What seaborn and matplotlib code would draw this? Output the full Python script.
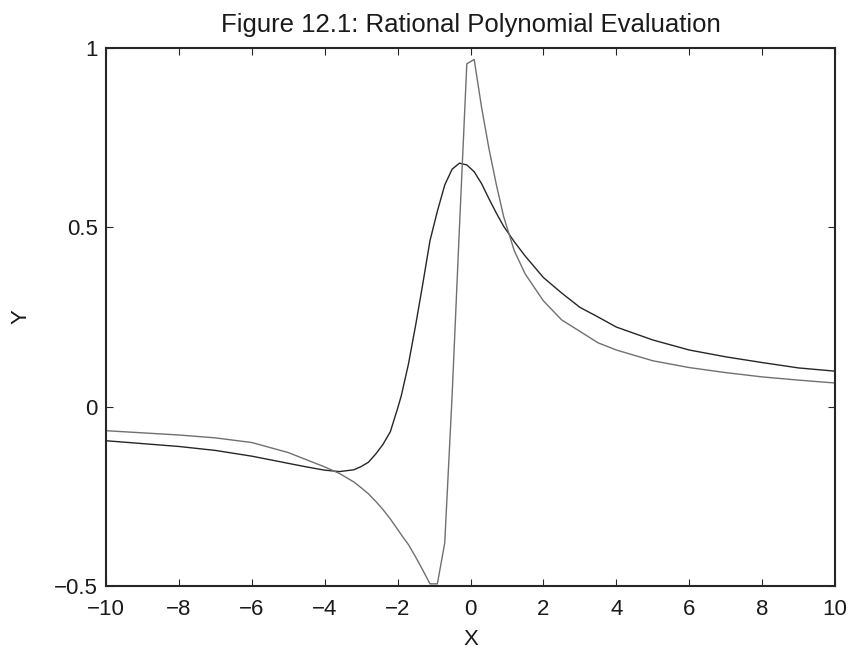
import matplotlib
matplotlib.use("Agg")
import matplotlib.pyplot as plt
import seaborn as sns
import pandas as pd

# x positions where the curves were read
x_vals = [-10, -9, -8, -7, -6, -5, -4.5, -4, -3.6, -3.2, -3.0, -2.8, -2.6,
          -2.4, -2.2, -2.0, -1.9, -1.7, -1.5, -1.313, -1.111, -0.909, -0.707,
          -0.505, -0.303, -0.101, 0.101, 0.303, 0.505, 0.707, 0.909, 1.2, 1.5,
          2.0, 2.5, 3.0, 3.5, 4.0, 5.0, 6.0, 7.0, 8.0, 9.0, 10.0]

# dark curve
y_dark = [-0.095, -0.103, -0.111, -0.122, -0.138, -0.158, -0.168, -0.177,
          -0.181, -0.176, -0.167, -0.155, -0.132, -0.105, -0.07, -0.005, 0.03,
          0.12, 0.23, 0.34, 0.463, 0.545, 0.618, 0.662, 0.679, 0.674, 0.655,
          0.622, 0.58, 0.54, 0.503, 0.46, 0.42, 0.36, 0.317, 0.277, 0.25,
          0.222, 0.186, 0.158, 0.139, 0.123, 0.108, 0.099]

# gray curve
y_gray = [-0.067, -0.073, -0.079, -0.087, -0.1, -0.128, -0.148, -0.168,
          -0.186, -0.21, -0.226, -0.243, -0.264, -0.287, -0.313, -0.342,
          -0.357, -0.385, -0.42, -0.455, -0.494, -0.494, -0.38, 0.03, 0.5,
          0.956, 0.968, 0.835, 0.72, 0.62, 0.53, 0.435, 0.37, 0.295, 0.242,
          0.21, 0.178, 0.158, 0.128, 0.109, 0.095, 0.083, 0.074, 0.066]

x_ticks = [-10, -8, -6, -4, -2, 0, 2, 4, 6, 8, 10]
y_ticks = [-0.5, 0, 0.5, 1]
y_tick_labels = ["\u22120.5", "0", "0.5", "1"]
x_tick_labels = [("\u2212" + str(-t)) if t < 0 else str(t) for t in x_ticks]

sns.set_theme(style="white")
plt.rcParams['font.family'] = ['Liberation Sans', 'DejaVu Sans']

fig = plt.figure(figsize=(8.52, 6.5), dpi=100)
ax = fig.add_axes([106 / 852, 1 - 586 / 650, (835 - 106) / 852, (586 - 48) / 650])

df_dark = pd.DataFrame({"x": x_vals, "y": y_dark})
df_gray = pd.DataFrame({"x": x_vals, "y": y_gray})
sns.lineplot(data=df_dark, x="x", y="y", ax=ax, color="#262626", linewidth=1.0,
             sort=False, estimator=None)
sns.lineplot(data=df_gray, x="x", y="y", ax=ax, color="#707070", linewidth=1.0,
             sort=False, estimator=None)

ax.set_xlim(-10, 10)
ax.set_ylim(-0.5, 1)
ax.set_xticks(x_ticks)
ax.set_xticklabels(x_tick_labels)
ax.set_yticks(y_ticks)
ax.set_yticklabels(y_tick_labels)
ax.tick_params(direction="in", length=5, width=0.8, color="#262626",
               labelsize=16, labelcolor="#1a1a1a", top=True, right=True,
               bottom=True, left=True)
ax.tick_params(axis="x", pad=9.5)
ax.tick_params(axis="y", pad=6)
for s in ax.spines.values():
    s.set_visible(True)
    s.set_color("#262626")
    s.set_linewidth(1.5)

ax.set_xlabel("X", fontsize=16, color="#1a1a1a", labelpad=6)
ax.set_ylabel("Y", fontsize=16, color="#1a1a1a", labelpad=16)
ax.set_title("Figure 12.1: Rational Polynomial Evaluation", fontsize=18.5,
             color="#1a1a1a", pad=11.5)

fig.savefig("out.png", dpi=100, facecolor="white")
